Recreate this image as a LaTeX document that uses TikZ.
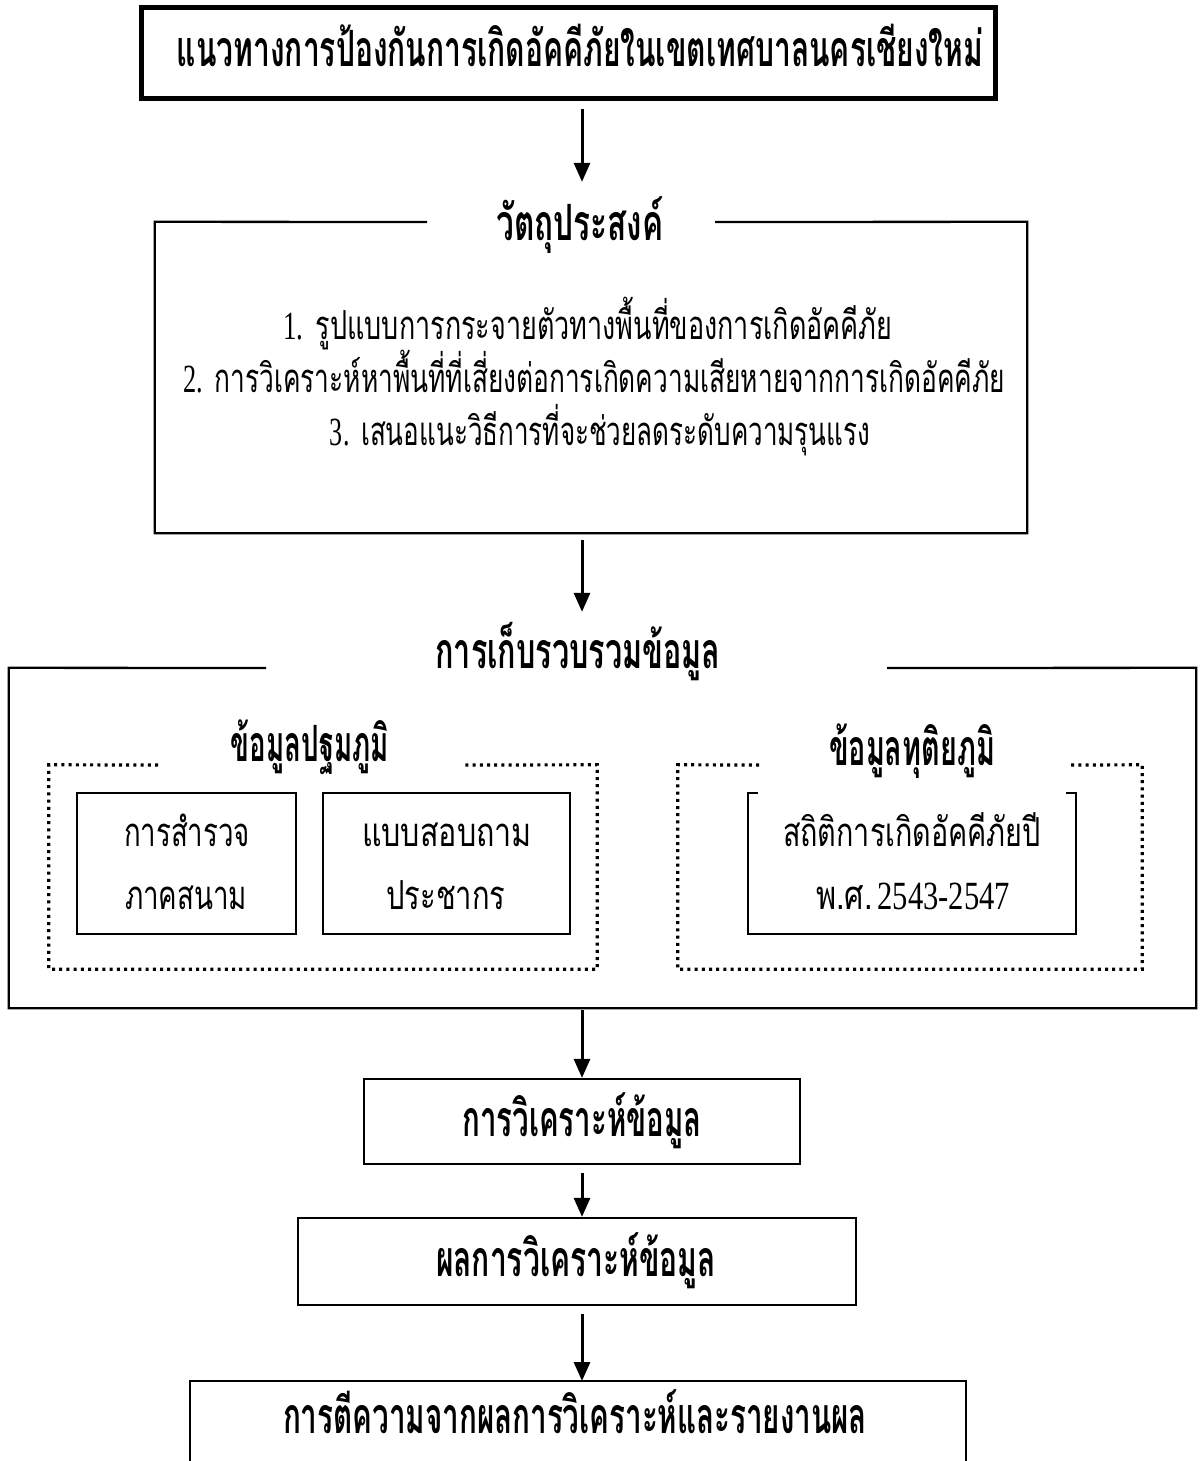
\documentclass[tikz,border=0pt]{standalone}
\usepackage{fontspec}
\usepackage{graphicx}
\setmainfont{Liberation Serif}
\newfontfamily\thf[Script=Thai]{Loma}
\usetikzlibrary{arrows.meta}
\newcommand\fitw[2]{\resizebox{#1pt}{\height}{#2}}
\newcommand\hbfont{\thf\bfseries\fontsize{50pt}{56pt}\selectfont}
\newcommand\rgfont{\thf\fontsize{40pt}{46pt}\selectfont}
\newcommand\dg[1]{{\rmfamily #1}}
\begin{document}
\begin{tikzpicture}[x=1pt,y=-1pt,
  boxline/.style={draw=black,line width=2.3pt},
  thickbox/.style={draw=black,line width=5pt},
  dotbox/.style={draw=black,line width=3.2pt,dash pattern=on 3pt off 4.2pt},
  arr/.style={draw=black,line width=3pt,-{Triangle[width=16pt,length=19pt]}},
  hd/.style={anchor=base,inner sep=0pt,font=\hbfont},
  tx/.style={anchor=base,inner sep=0pt,font=\rgfont},
  area/.style={inner sep=0pt,draw=none}
]
\useasboundingbox[fill=white] (0,0) rectangle (1203,1461);
\coordinate (ax) at (582,0);

% title box
\node[thickbox,inner sep=0pt,minimum width=854pt,minimum height=91pt] (tbox) at (568,53.5) {};
\node[hd] (ttl) at (580,67) {\fitw{806}{แนวทางการป้องกันการเกิดอัคคีภัยในเขตเทศบาลนครเชียงใหม่}};

% objectives
\node[area,minimum width=872pt,minimum height=311pt] (obj) at (591,377.5) {};
\draw[boxline] (427,222) -- (obj.north west) -- (obj.south west) -- (obj.south east) -- (obj.north east) -- (715,222);
\node[hd] (objt) at (580,240) {\fitw{167}{วัตถุประสงค์}};
\node[tx] (o1) at (588,339) {\fitw{609}{\dg{1.} รูปแบบการกระจายตัวทางพื้นที่ของการเกิดอัคคีภัย}};
\node[tx] (o2) at (594,392) {\fitw{822}{\dg{2.} การวิเคราะห์หาพื้นที่ที่เสี่ยงต่อการเกิดความเสียหายจากการเกิดอัคคีภัย}};
\node[tx] (o3) at (600,445) {\fitw{540}{\dg{3.} เสนอแนะวิธีการที่จะช่วยลดระดับความรุนแรง}};

% data collection
\node[area,minimum width=1187pt,minimum height=340pt] (coll) at (602.5,838) {};
\draw[boxline] (266,668) -- (coll.north west) -- (coll.south west) -- (coll.south east) -- (coll.north east) -- (887,668);
\node[hd] (collt) at (578,668) {\fitw{285}{การเก็บรวบรวมข้อมูล}};

% primary
\node[area,minimum width=548pt,minimum height=204pt] (prim) at (323,867) {};
\draw[dotbox] (158,765) -- (prim.north west) -- (prim.south west) -- (prim.south east) -- (prim.north east) -- (463,765);
\node[hd] (primt) at (310,761) {\fitw{158}{ข้อมูลปฐมภูมิ}};
\node[boxline,inner sep=0pt,minimum width=219pt,minimum height=141pt] (survey) at (186.5,863.5) {};
\node[tx] (s1) at (187,846) {\fitw{126}{การสำรวจ}};
\node[tx] (s2) at (186,909) {\fitw{122}{ภาคสนาม}};
\node[boxline,inner sep=0pt,minimum width=247pt,minimum height=141pt] (quest) at (446.5,863.5) {};
\node[tx] (q1) at (447,846) {\fitw{170}{แบบสอบถาม}};
\node[tx] (q2) at (446,909) {\fitw{119}{ประชากร}};

% secondary
\node[area,minimum width=464pt,minimum height=204pt] (sec) at (910,867) {};
\draw[dotbox] (759,765) -- (sec.north west) -- (sec.south west) -- (sec.south east) -- (sec.north east) -- (1068,765);
\node[hd] (sect) at (912,765) {\fitw{166}{ข้อมูลทุติยภูมิ}};
\node[area,minimum width=328pt,minimum height=141pt] (stat) at (912,863.5) {};
\draw[boxline] (stat.north west) ++(10,0) -- (stat.north west) -- (stat.south west) -- (stat.south east) -- (stat.north east) -- ++(-10,0);
\node[tx] (st1) at (912,846) {\fitw{258}{สถิติการเกิดอัคคีภัยปี}};
\node[tx] (st2) at (913,909) {\fitw{194}{พ.ศ.\,\dg{2543-2547}}};

% analysis
\node[boxline,inner sep=0pt,minimum width=436pt,minimum height=85pt] (ana) at (582,1121.5) {};
\node[hd] (anat) at (582,1136) {\fitw{239}{การวิเคราะห์ข้อมูล}};
\node[boxline,inner sep=0pt,minimum width=558pt,minimum height=87pt] (res) at (577,1261.5) {};
\node[hd] (rest) at (576,1276) {\fitw{280}{ผลการวิเคราะห์ข้อมูล}};

% interpretation (cut by page edge)
\coordinate (intnw) at (190,1381);
\coordinate (intne) at (966,1381);
\draw[boxline] (190,1461) -- (intnw) -- (intne) -- (966,1461);
\node[hd] (intt) at (575,1433) {\fitw{584}{การตีความจากผลการวิเคราะห์และรายงานผล}};

% arrows
\draw[arr,shorten <=8pt,shorten >=40pt] (tbox.south -| ax) -- (obj.north -| ax);
\draw[arr,shorten <=7pt,shorten >=56pt] (obj.south -| ax) -- (coll.north -| ax);
\draw[arr,shorten <=2pt] (coll.south -| ax) -- (ana.north -| ax);
\draw[arr,shorten <=8pt] (ana.south -| ax) -- (res.north -| ax);
\draw[arr,shorten <=8pt] (res.south -| ax) -- (intnw -| ax);
\end{tikzpicture}
\end{document}
